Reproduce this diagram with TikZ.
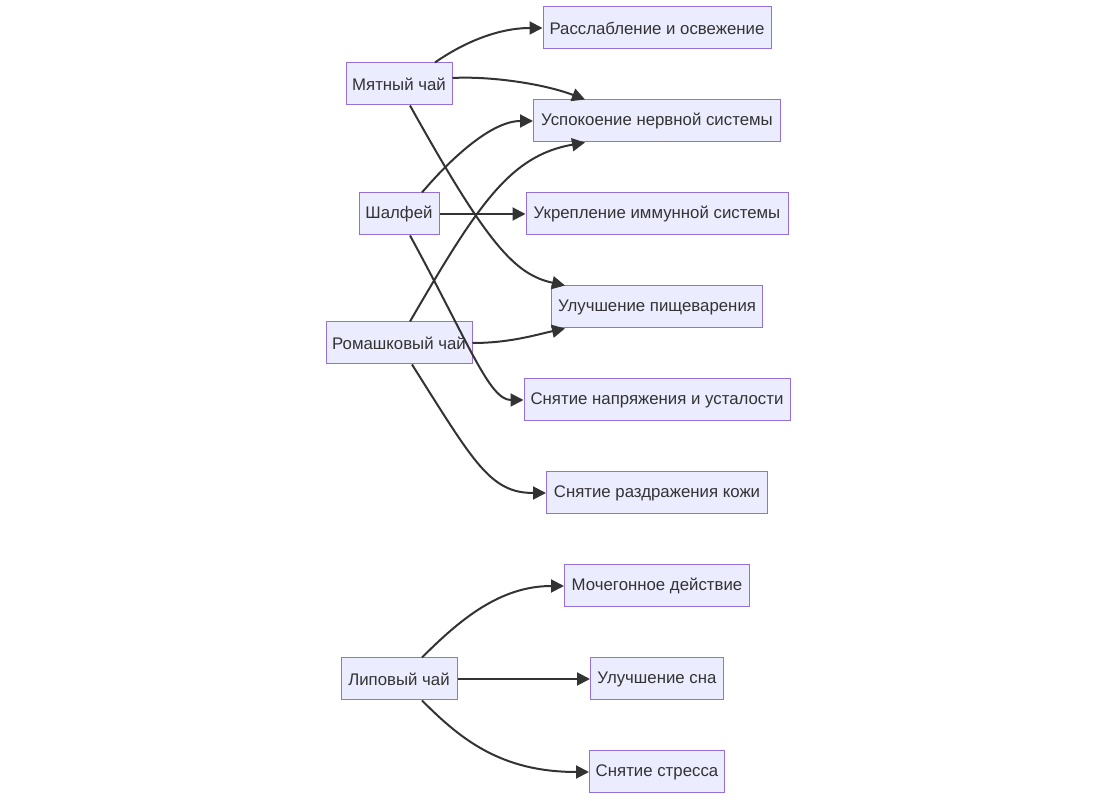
\documentclass[tikz,border=0pt]{standalone}
\usepackage{fontspec}
\setmainfont{Liberation Sans}
\definecolor{boxfill}{HTML}{ECECFF}
\definecolor{boxline}{HTML}{9370DB}
\definecolor{ink}{HTML}{333333}
\usetikzlibrary{arrows.meta, calc}

\tikzset{
  effect/.style={draw=boxline, fill=boxfill, line width=0.5pt, text=ink,
    minimum height=21pt, inner xsep=3pt, font=\fontsize{8.4}{10}\selectfont},
  link/.style={-{Triangle[length=6.5pt, width=6.5pt]}, line width=1pt, ink}
}

\begin{document}
\begin{tikzpicture}[x=0.5pt, y=-0.5pt]
    \useasboundingbox (0,0) rectangle (1116,801);
    \foreach \nm/\yy/\bw/\lab in {%
      mint/84/106/{Мятный чай},
      sage/214/80/{Шалфей},
      cham/343/146/{Ромашковый чай},
      linden/679/116/{Липовый чай}}{%
      \node[effect, minimum width=\bw*0.5pt] (\nm) at (399,\yy) {\lab};
    }
    \foreach \nm/\yy/\bw/\lab in {%
      relax/28/228/{Расслабление и освежение},
      calm/121/247/{Успокоение нервной системы},
      immune/214/262/{Укрепление иммунной системы},
      digest/307/211/{Улучшение пищеварения},
      fatigue/400/266/{Снятие напряжения и усталости},
      skin/493/221/{Снятие раздражения кожи},
      diuretic/586/185/{Мочегонное действие},
      sleep/679/133/{Улучшение сна},
      stress/772/135/{Снятие стресса}}{%
      \node[effect, minimum width=\bw*0.5pt] (\nm) at (657,\yy) {\lab};
    }
    \draw[link] ($(mint.north)+(36,0)$) .. controls +(30,-21) and +(-43,0) .. (relax.west);
    \draw[link] ($(mint.east)+(0,-6)$) .. controls +(37,-2) and +(-42,-16) .. ($(calm.north)+(-72,0)$);
    \draw[link] ($(mint.south)+(11,0)$) .. controls +(78,140) and +(-50,-11) .. ($(digest.north)+(-92,0)$);
    \draw[link] ($(sage.north)+(23,0)$) .. controls +(28,-33) and +(-42,0) .. (calm.west);
    \draw[link] (sage.east) -- (immune.west);
    \draw[link] ($(sage.south)+(11,0)$) .. controls +(60,110) and +(-34,0) .. (fatigue.west);
    \draw[link] ($(cham.north)+(11,0)$) .. controls +(68,-117) and +(-75,13) .. ($(calm.south)+(-72,0)$);
    \draw[link] (cham.east) .. controls +(38,0) and +(-28,6) .. ($(digest.south)+(-92,0)$);
    \draw[link] ($(cham.south)+(13,0)$) .. controls +(62,98) and +(-56,0) .. (skin.west);
    \draw[link] ($(linden.north)+(23,0)$) .. controls +(38,-38) and +(-64,0) .. (diuretic.west);
    \draw[link] (linden.east) -- (sleep.west);
    \draw[link] ($(linden.south)+(23,0)$) .. controls +(38,38) and +(-89,0) .. (stress.west);
  \end{tikzpicture}
\end{document}
